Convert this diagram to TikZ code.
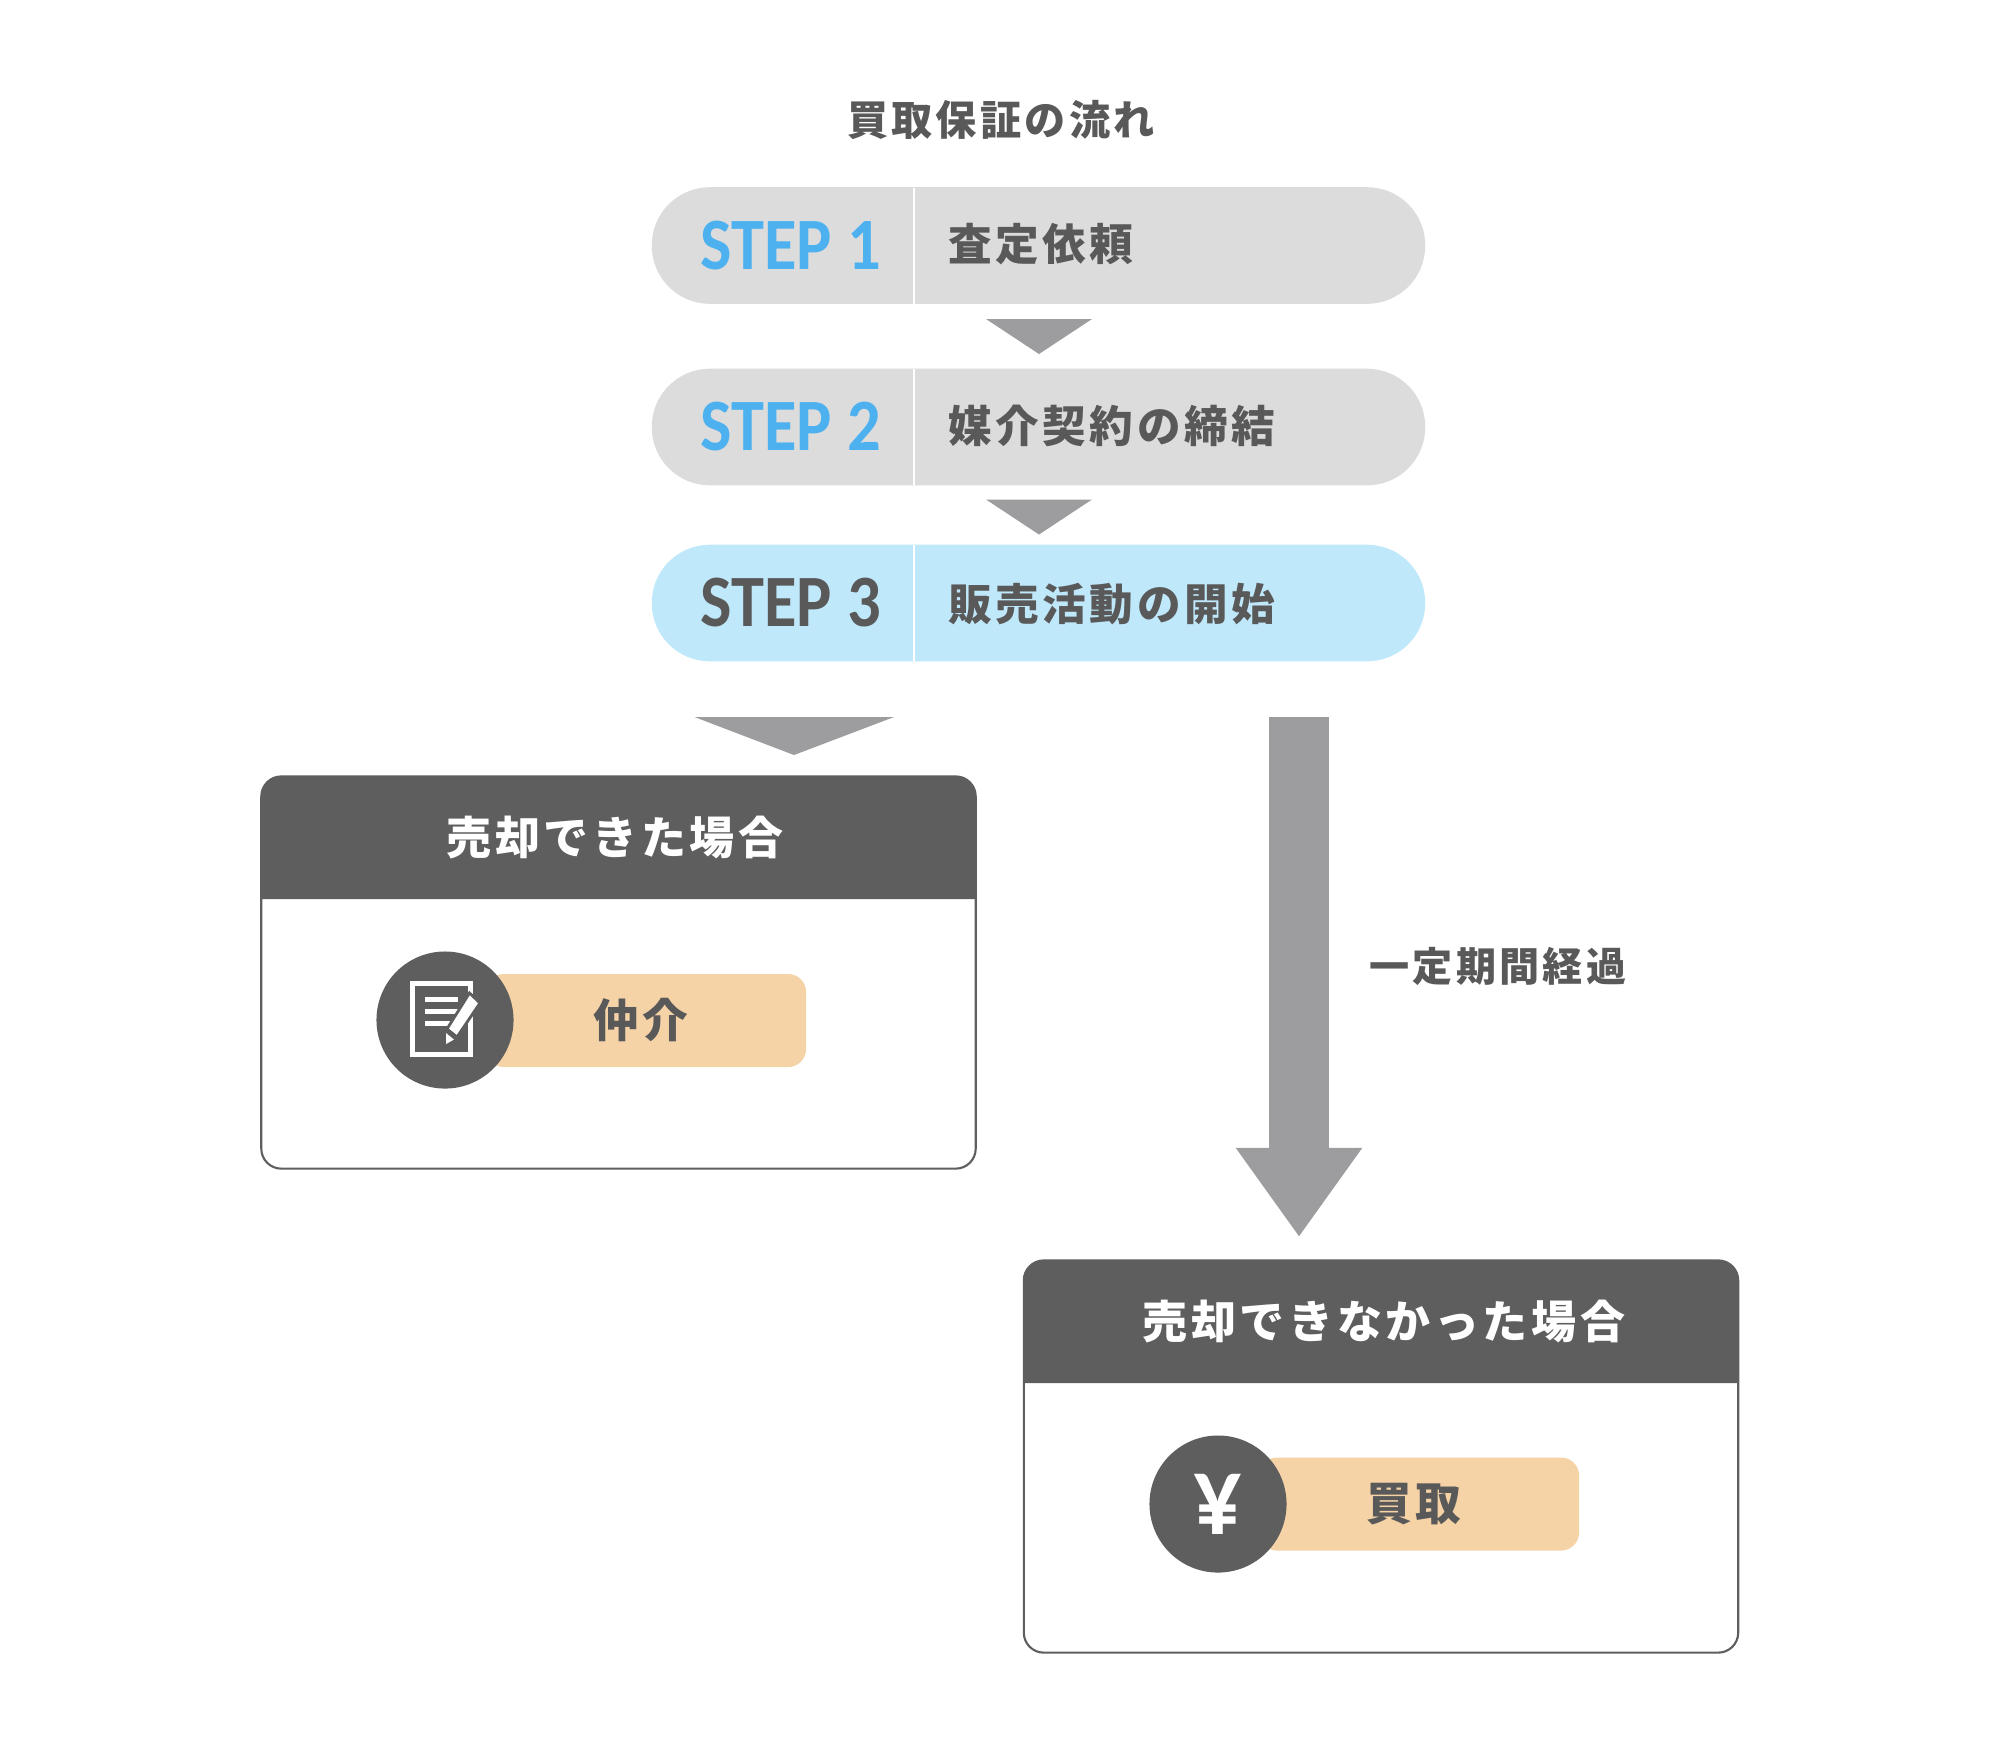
\documentclass[tikz,border=0pt]{standalone}
\usepackage{fontspec}
\usepackage{graphicx}
\setmainfont{Carlito}
\newfontfamily\jpfont[LetterSpace=8]{Noto Sans CJK JP}
\usetikzlibrary{arrows.meta, positioning}
\definecolor{inkgray}{HTML}{595959}
\definecolor{headgray}{HTML}{5E5E5E}
\definecolor{arrowgray}{HTML}{9D9DA0}
\definecolor{pillgray}{HTML}{DCDCDC}
\definecolor{pillblue}{HTML}{C0E8FB}
\definecolor{stepblue}{HTML}{4DB1F0}
\definecolor{barorange}{HTML}{F5D3A6}
\tikzset{
  stepbar/.style={minimum width=7.73cm, minimum height=1.165cm, rounded corners=.58cm, inner sep=0},
  steplabel/.style={anchor=west, inner sep=0, font=\fontsize{21}{21}\selectfont\bfseries},
  jptext/.style={inner sep=0, text=inkgray, font=\fontsize{12.4}{12.4}\selectfont\jpfont\bfseries},
  headtext/.style={inner sep=0, text=white, font=\fontsize{12.8}{12.8}\selectfont\jpfont\bfseries},
  resultbox/.style={draw=headgray, line width=.6pt, fill=white, rounded corners=.2cm, minimum width=7.14cm, minimum height=3.92cm, inner sep=0},
  iconbar/.style={fill=barorange, rounded corners=.18cm, minimum height=.93cm, inner sep=0},
  iconcircle/.style={circle, fill=headgray, minimum size=1.37cm, inner sep=0},
}
\begin{document}
\begin{tikzpicture}[x=.01cm, y=-.01cm]
  \useasboundingbox (0,0) rectangle (2000,1750);
  \fill[white] (0,0) rectangle (2000,1750);
  \node[jptext, font=\fontsize{11.7}{11.7}\selectfont\jpfont\bfseries] (title) at (1001,120) {買取保証の流れ};
  % steps
  \foreach \ypos/\nameypos/\num/\fillcol/\labelcol/\txt in {245.5/244/1/pillgray/stepblue/査定依頼, 427/426/2/pillgray/stepblue/媒介契約の締結, 603/604.5/3/pillblue/inkgray/販売活動の開始}{
    \node[stepbar, fill=\fillcol] (bar\num) at (1038.5,\ypos) {};
    \draw[white, line width=.8pt] (914,\ypos-58) -- (914,\ypos+58);
    \node[steplabel, text=\labelcol] (label\num) at (700,\ypos) {\scalebox{.9}[1]{STEP \num}};
    \node[jptext, anchor=west] (name\num) at (948,\nameypos) {\txt};
  }
  % small triangles
  \foreach \ypos in {319, 499.5}{
    \fill[arrowgray] (986,\ypos) -- (1092,\ypos) -- (1039,\ypos+35) -- cycle;
  }
  \fill[arrowgray] (694.5,717) -- (894,717) -- (794,755) -- cycle;
  % long arrow
  \coordinate (arrowtop) at (1299,717);
  \coordinate (arrowtip) at (1299,1237);
  \draw[arrowgray, line width=.6cm, -{Triangle[length=.89cm, width=1.2cm]}] (arrowtop) -- (arrowtip);
  \node[jptext, anchor=west, font=\fontsize{11.4}{11.4}\selectfont\jpfont\bfseries] (period) at (1369,966) {一定期間経過};
  % left box
  \node[resultbox] (soldbox) at (618.5,972.5) {};
  \fill[headgray] (261,899) {[rounded corners=.2cm] -- (261,776) -- (976,776)} -- (976,899) -- cycle;
  \node[headtext] (soldhead) at (615,837.5) {売却できた場合};
  \node[iconbar, minimum width=3.2cm] (soldbar) at (646,1020.5) {};
  \node[iconcircle] (soldcircle) at (445,1020) {};
  \node[jptext, font=\fontsize{13}{13}\selectfont\jpfont\bfseries] (soldname) at (641,1020) {仲介};
  % memo icon
  \draw[white, line width=1.5pt] (412.5,983.5) rectangle (470.5,1054.5);
  \foreach \ypos in {999.5, 1011.5, 1023.5}{
    \draw[white, line width=1.4pt] (425,\ypos) -- (458,\ypos);
  }
  \fill[white, draw=headgray, line width=.8pt] (469.5,993) -- (480,1003) -- (457,1037) -- (447,1029) -- cycle;
  \fill[white] (446,1033) -- (454,1039.5) -- (446,1044) -- cycle;
  % right box
  \node[resultbox] (unsoldbox) at (1381,1456.5) {};
  \fill[headgray] (1024,1383) {[rounded corners=.2cm] -- (1024,1260) -- (1738,1260)} -- (1738,1383) -- cycle;
  \node[headtext] (unsoldhead) at (1384,1321) {売却できなかった場合};
  \node[iconbar, minimum width=3.2cm] (unsoldbar) at (1419,1504) {};
  \node[iconcircle] (unsoldcircle) at (1218,1504) {};
  \node[jptext, font=\fontsize{13}{13}\selectfont\jpfont\bfseries] (unsoldname) at (1414,1504) {買取};
  \node[inner sep=0, text=white, font=\fontsize{32}{32}\selectfont\bfseries] (yen) at (1218,1504) {\scalebox{.85}[1]{¥}};
\end{tikzpicture}
\end{document}
